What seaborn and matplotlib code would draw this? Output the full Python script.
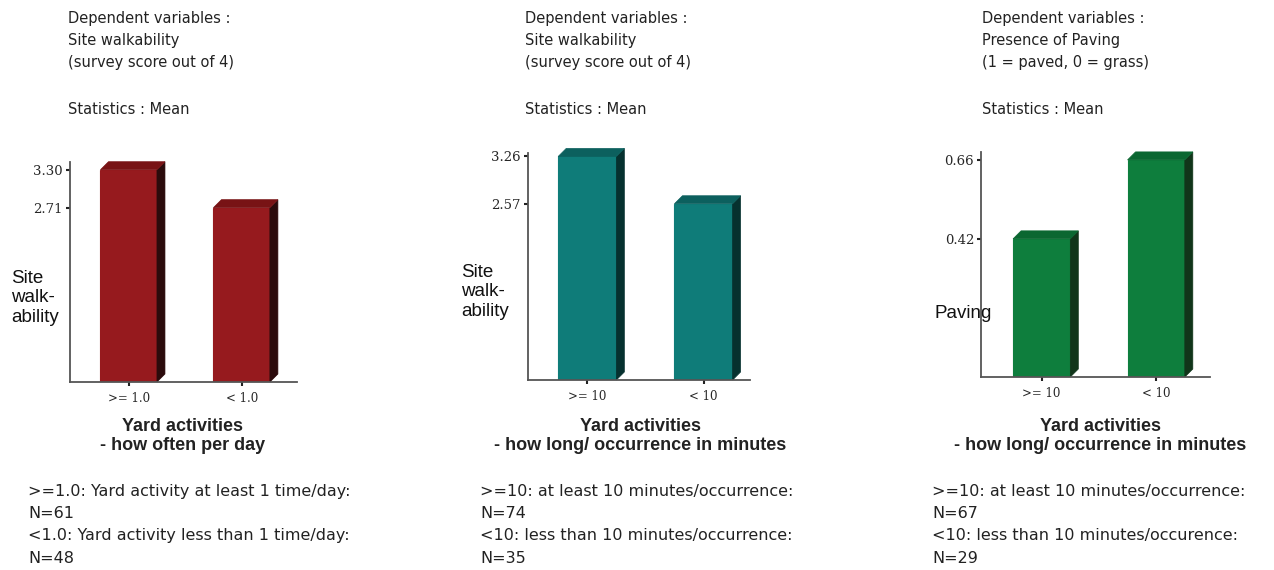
import numpy as np
import pandas as pd
import seaborn as sns
import matplotlib.pyplot as plt
from matplotlib.patches import Polygon

sns.set_style("white")
plt.rcParams['font.family'] = ['DejaVu Sans']

W, H = 1274, 570

# data for the three panels
groups_freq = [">= 1.0", "< 1.0"]
groups_min = [">= 10", "< 10"]
walk_by_freq = [3.30, 2.71]
walk_by_min = [3.26, 2.57]
paving_by_min = [0.42, 0.66]

headers = [
    "Dependent variables :\nSite walkability\n(survey score out of 4)",
    "Dependent variables :\nSite walkability\n(survey score out of 4)",
    "Dependent variables :\nPresence of Paving\n(1 = paved, 0 = grass)",
]
stat_text = "Statistics : Mean"
ylabels = ["Site\nwalk-\nability", "Site\nwalk-\nability", "Paving"]
xlabels = [
    "Yard activities\n- how often per day",
    "Yard activities\n- how long/ occurrence in minutes",
    "Yard activities\n- how long/ occurrence in minutes",
]
notes = [
    ">=1.0: Yard activity at least 1 time/day:\nN=61\n<1.0: Yard activity less than 1 time/day:\nN=48",
    ">=10: at least 10 minutes/occurrence:\nN=74\n<10: less than 10 minutes/occurrence:\nN=35",
    ">=10: at least 10 minutes/occurrence:\nN=67\n<10: less than 10 minutes/occurence:\nN=29",
]

# colours: front, top, side
palettes = [
    ("#961A1E", "#781315", "#2B0B0C"),
    ("#0F7C79", "#0C605E", "#06312F"),
    ("#0E7E3D", "#0B6731", "#11351A"),
]

# axes boxes in pixels: left, top, right, bottom
boxes = [(70, 162, 297, 382), (528, 153, 750, 380), (981, 152, 1210, 377)]
ylims = [3.42, 3.31, 0.684]
xlims = [(-0.52, 1.49), (-0.51, 1.40), (-0.53, 1.47)]
ylab_pos = [(11, 298), (461, 292), (935, 313)]
head_x = [68, 525, 982]
xlab_x = [183, 640, 1100]
note_x = [28, 480, 932]

panels = [(groups_freq, walk_by_freq), (groups_min, walk_by_min), (groups_min, paving_by_min)]

fig = plt.figure(figsize=(W / 100, H / 100), dpi=100)
depth = 8  # px

for i, (cats, vals) in enumerate(panels):
    l, t, r, b = boxes[i]
    ax = fig.add_axes([l / W, 1 - b / H, (r - l) / W, (b - t) / H])
    df = pd.DataFrame({"group": cats, "mean": vals})
    front, top, side = palettes[i]
    sns.barplot(data=df, x="group", y="mean", color=front, saturation=1,
                width=0.5, ax=ax, edgecolor=front, linewidth=0.8)
    ax.set_xlim(*xlims[i])
    ax.set_ylim(0, ylims[i])

    # pseudo 3D faces
    dx = depth * (xlims[i][1] - xlims[i][0]) / (r - l)
    dy = depth * ylims[i] / (b - t)
    for p in ax.patches:
        x0, w, h = p.get_x(), p.get_width(), p.get_height()
        x1 = x0 + w
        ax.add_patch(Polygon([(x1, 0), (x1 + dx, dy), (x1 + dx, h + dy), (x1, h)],
                             closed=True, facecolor=side, edgecolor=side, lw=0.5, clip_on=False))
        ax.add_patch(Polygon([(x0, h), (x1, h), (x1 + dx, h + dy), (x0 + dx, h + dy)],
                             closed=True, facecolor=top, edgecolor=top, lw=0.5, clip_on=False))

    ax.set_yticks(vals)
    ax.set_yticklabels([f"{v:.2f}" for v in vals])
    for lab in ax.get_xticklabels():
        lab.set_family("DejaVu Serif")
        lab.set_fontsize(8.5)
    for lab in ax.get_yticklabels():
        lab.set_family("DejaVu Serif")
        lab.set_fontsize(9.5)
    ax.tick_params(axis="both", length=3, width=1.5, color="#222222", pad=2, left=True, bottom=True)
    ax.tick_params(axis="x", pad=4)
    ax.set_xlabel("")
    ax.set_ylabel("")
    for s in ["top", "right"]:
        ax.spines[s].set_visible(False)
    for s in ["left", "bottom"]:
        ax.spines[s].set_color("#555555")
        ax.spines[s].set_linewidth(1.3)

    # texts
    fig.text(head_x[i] / W, 1 - 11 / H, headers[i], ha="left", va="top",
             fontsize=10.5, color="#222222", linespacing=1.57)
    fig.text(head_x[i] / W, 1 - 110 / H, stat_text, ha="left", va="center",
             fontsize=10.5, color="#222222")
    fig.text(ylab_pos[i][0] / W, 1 - ylab_pos[i][1] / H, ylabels[i], ha="left", va="center",
             fontsize=13.5, family="Liberation Sans", color="#111111", linespacing=1.22)
    fig.text(xlab_x[i] / W, 1 - 436 / H, xlabels[i], ha="center", va="center",
             fontsize=13, family="Liberation Sans", fontweight="bold", color="#222222",
             linespacing=1.2)
    fig.text(note_x[i] / W, 1 - 484 / H, notes[i], ha="left", va="top",
             fontsize=11.5, color="#222222", linespacing=1.6)

fig.savefig("out.png", dpi=100)
